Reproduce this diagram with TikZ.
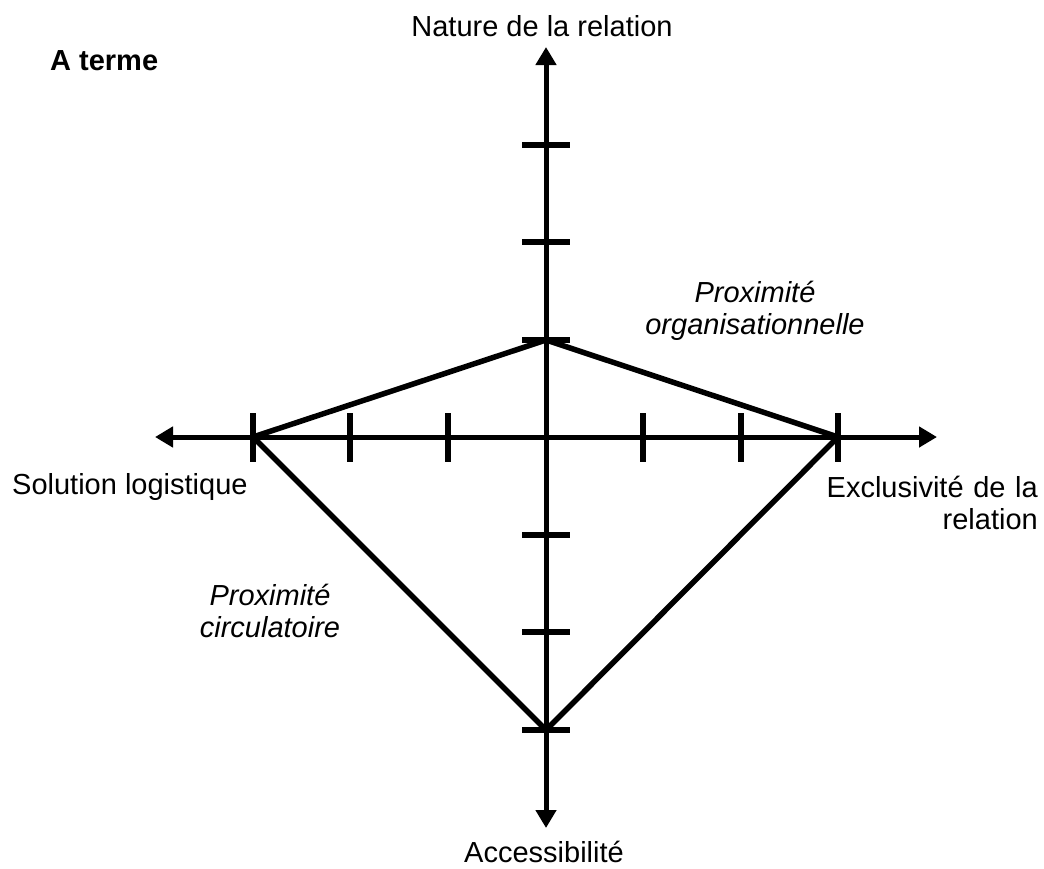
\documentclass[tikz,border=0pt]{standalone}
\usepackage{fontspec}
\setmainfont{Liberation Sans}
\usetikzlibrary{arrows.meta}
\begin{document}
\begin{tikzpicture}[x=1pt,y=-1pt,
  axis/.style={line width=5pt,{Triangle[length=18pt,width=20pt]}-{Triangle[length=18pt,width=20pt]}},
  tickmark/.style={line width=6pt},
  web/.style={line width=5.5pt,line join=miter},
  lbl/.style={inner sep=0pt,font=\fontsize{29}{32}\selectfont},
  ]
\useasboundingbox (0,0) rectangle (1044,868);

% centre and ends of the axes
\coordinate (O) at (546,437);
\coordinate (N) at (546,47);
\coordinate (S) at (546,828);
\coordinate (W) at (155,437);
\coordinate (E) at (937,437);

% axes, arrowed at both ends
\draw[axis] (S) -- (N);
\draw[axis] (W) -- (E);

% graduations
\foreach \y in {145,242,340,535,632,730}
  \draw[tickmark] (522,\y) -- (570,\y);
\foreach \x in {253,350,448,643,741,838}
  \draw[tickmark] (\x,413) -- (\x,462);

% profile
\coordinate (pT) at (546,340);
\coordinate (pE) at (838,437);
\coordinate (pS) at (546,730);
\coordinate (pW) at (253,437);
\draw[web] (pT) -- (pE) -- (pS) -- (pW) -- cycle;

% labels
\node[lbl,anchor=base] (tN) at (542,36) {Nature de la relation};
\node[lbl,anchor=base] (tS) at (544,862) {Accessibilité};
\node[lbl,anchor=base west] (tW) at (12,494) {Solution logistique};
\node[lbl,anchor=base east,text width=260pt,align=right] (tE) at (1038,497)
  {Exclusivité de la\\relation};
\node[lbl,anchor=base west,font=\fontsize{29}{32}\selectfont\bfseries] (tA) at (50,70) {A terme};
\node[lbl,anchor=base,text width=280pt,align=center,font=\fontsize{29}{32}\selectfont\itshape]
  (tO) at (755,302) {Proximité\\organisationnelle};
\node[lbl,anchor=base,text width=200pt,align=center,font=\fontsize{29}{32}\selectfont\itshape]
  (tC) at (270,605) {Proximité\\circulatoire};
\end{tikzpicture}
\end{document}
